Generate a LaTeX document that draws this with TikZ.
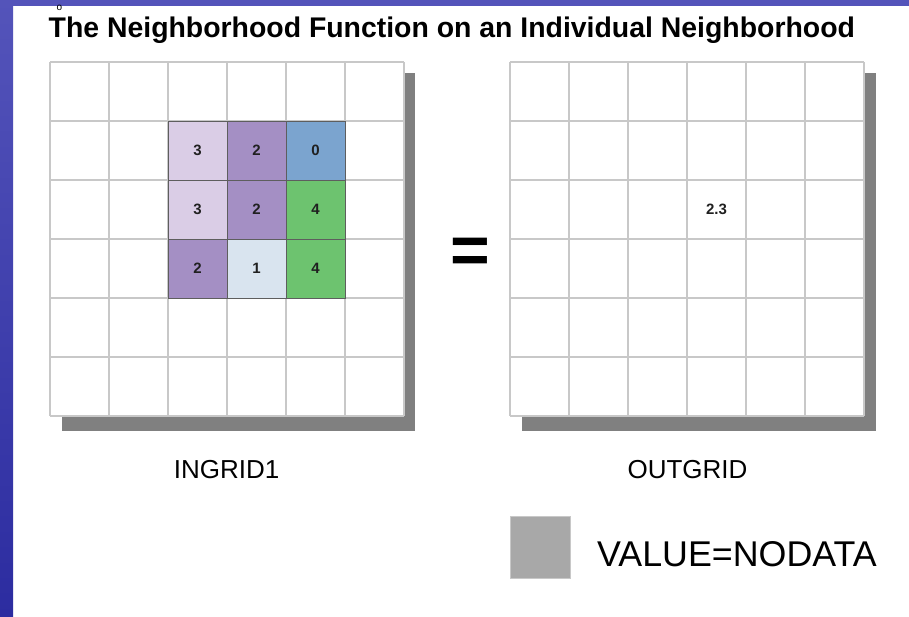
\documentclass[tikz,border=0pt]{standalone}
\usepackage{fontspec}
\setmainfont{Liberation Sans}
\definecolor{bluetop}{HTML}{5454BA}
\definecolor{bluebot}{HTML}{2C2CA0}
\definecolor{gridgray}{HTML}{C8C8C8}
\definecolor{shadowgray}{HTML}{808080}
\definecolor{edgegray}{HTML}{5E5E5E}
\definecolor{lav}{HTML}{DACDE6}
\definecolor{purp}{HTML}{A48FC4}
\definecolor{blueo}{HTML}{7BA4CF}
\definecolor{greenc}{HTML}{6DC36F}
\definecolor{palec}{HTML}{D9E4EF}
\definecolor{legendgray}{HTML}{A8A8A8}
\definecolor{numblack}{HTML}{202020}
\begin{document}
\begin{tikzpicture}[x=1pt,y=-1pt,
  gridline/.style={draw=gridgray, line width=1.8pt},
  shadowbox/.style={fill=shadowgray, draw=none},
  gridbox/.style={fill=white, draw=none},
  cellbox/.style={draw=edgegray, line width=0.9pt},
  cellnum/.style={font=\bfseries\fontsize{15}{15}\selectfont, text=numblack, inner sep=0pt},
  gridlabel/.style={font=\fontsize{26}{26}\selectfont, anchor=base, inner sep=0pt},
  titletext/.style={font=\bfseries\fontsize{28.4}{28.4}\selectfont, anchor=base west, inner sep=0pt}
]
\useasboundingbox (0,0) rectangle (909,616);
\fill[white] (0,0) rectangle (909,616);
% blue frame strips
\shade[top color=bluetop, bottom color=bluebot] (0,0) rectangle (13,616);
\fill[bluetop] (0,0) rectangle (909,6);
% stray mark and title
\node[font=\fontsize{10}{10}\selectfont, inner sep=0pt] (mark) at (59.5,8) {o};
\node[titletext] (title) at (48.5,37.5) {The Neighborhood Function on an Individual Neighborhood};
% ---------- INGRID1 ----------
\fill[shadowbox] (62,73) rectangle (415,431);
\fill[gridbox] (50,62) rectangle (404,416);
\foreach \i in {0,...,6} {
  \draw[gridline] (50+59*\i,62) -- (50+59*\i,416);
  \draw[gridline] (50,62+59*\i) -- (404,62+59*\i);
}
% coloured neighbourhood cells
\foreach \c/\r/\col/\v in {0/0/lav/3, 1/0/purp/2, 2/0/blueo/0,
                           0/1/lav/3, 1/1/purp/2, 2/1/greenc/4,
                           0/2/purp/2, 1/2/palec/1, 2/2/greenc/4} {
  \filldraw[cellbox, fill=\col] (168+59*\c,121+59*\r) rectangle (227+59*\c,180+59*\r);
  \node[cellnum] (n\c\r) at (197.5+59*\c,150.5+59*\r) {\v};
}
\node[gridlabel] (ingrid) at (226.5,478) {INGRID1};
% equals sign
\node[font=\bfseries\fontsize{68}{68}\selectfont, anchor=base, inner sep=0pt] (eq) at (470.5,273) {=};
% ---------- OUTGRID ----------
\fill[shadowbox] (522,73) rectangle (876,431);
\fill[gridbox] (510,62) rectangle (864,416);
\foreach \i in {0,...,6} {
  \draw[gridline] (510+59*\i,62) -- (510+59*\i,416);
  \draw[gridline] (510,62+59*\i) -- (864,62+59*\i);
}
\node[cellnum] (out) at (716.5,209.5) {2.3};
\node[gridlabel] (outgrid) at (687.5,478) {OUTGRID};
% ---------- legend ----------
\filldraw[fill=legendgray, draw=gridgray, line width=0.8pt] (510,516) rectangle (570,578);
\node[font=\fontsize{35.8}{35.8}\selectfont, anchor=base west, inner sep=0pt] (legend) at (597,566) {VALUE=NODATA};
\end{tikzpicture}
\end{document}
